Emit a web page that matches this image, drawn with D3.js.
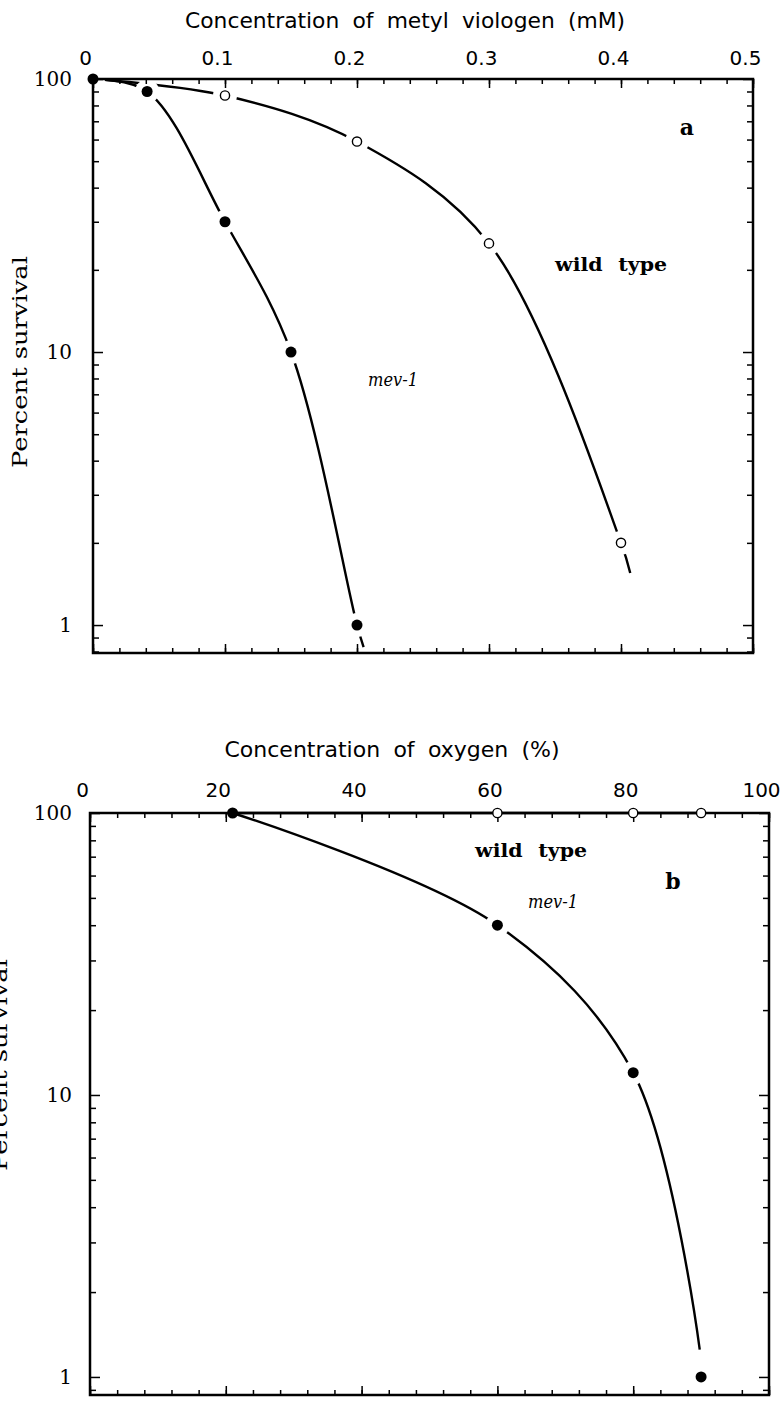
<!DOCTYPE html>
<html lang="en">
<head>
<meta charset="UTF-8">
<style>
  body { margin: 0; background: #fff; }
  .sans { font-family: "DejaVu Sans", sans-serif; }
  .serif { font-family: "DejaVu Serif", serif; }
</style>
</head>
<body>
<svg width="782" height="1405"></svg>
<script src="https://d3js.org/d3.v7.min.js"></script>
<script>
// ---- data ----
// panel a: methyl viologen (mM)
var mevDoseA = [0, 0.041, 0.1, 0.15, 0.2];
var mevSurvA = [100, 90, 30, 10, 1];
var wildDoseA = [0.1, 0.2, 0.3, 0.4];
var wildSurvA = [87, 59, 25, 2];
// fitted curves as drawn (the line runs a little past the last point)
var mevFitA = [[0, 100], [0.041, 90], [0.1, 30], [0.15, 10], [0.2, 1], [0.205, 0.83]];
var wildFitA = [[0, 100], [0.1, 87], [0.2, 59], [0.3, 25], [0.4, 2], [0.407, 1.55]];

// panel b: oxygen (%)
var mevDoseB = [21, 60, 80, 90];
var mevSurvB = [100, 40, 12, 1];
var wildDoseB = [60, 80, 90];
var wildSurvB = [100, 100, 100];
var mevFitB = [[21, 100], [60, 40], [80, 12], [89.8, 1.25]];
var wildFitB = [[21, 100], [90, 100]];

var xTicksA = [0, 0.1, 0.2, 0.3, 0.4, 0.5];
var xTicksB = [0, 20, 40, 60, 80, 100];
var yTicks = [1, 10, 100];

var svg = d3.select("svg");

function zip(xs, ys) { return xs.map(function(v, i) { return [v, ys[i]]; }); }

function minorLog(lo, hi) {
  var out = [];
  [0.1, 1, 10].forEach(function(dec) {
    for (var k = 2; k <= 9; k++) {
      var v = k * dec;
      if (v >= lo && v < hi && v !== 1 && v !== 10) out.push(v);
    }
  });
  return out;
}

function panel(p) {
  var g = svg.append("g");
  var x = d3.scaleLinear().domain(p.xDomain).range([p.left, p.right]);
  var y = d3.scaleLog().domain(p.yDomain).range([p.bottom, p.top]);

  var line = d3.line()
    .x(function(d) { return x(d[0]); })
    .y(function(d) { return y(d[1]); })
    .curve(d3.curveCatmullRom.alpha(0.5));

  // curves
  p.fits.forEach(function(f) {
    g.append("path").datum(f)
      .attr("d", line)
      .attr("fill", "none")
      .attr("stroke", "#000")
      .attr("stroke-width", 2.4);
  });

  // white gaps round the points
  var allPts = p.filled.concat(p.open).filter(p.halo);
  g.selectAll(".halo").data(allPts).enter().append("circle")
    .attr("cx", function(d) { return x(d[0]); })
    .attr("cy", function(d) { return y(d[1]); })
    .attr("r", 12)
    .attr("fill", "#fff");

  // frame
  g.append("rect")
    .attr("x", p.left).attr("y", p.top)
    .attr("width", p.right - p.left).attr("height", p.bottom - p.top)
    .attr("fill", "none").attr("stroke", "#000").attr("stroke-width", 2.5);

  var minorX = d3.range(p.xDomain[0], p.xDomain[1] + p.xMinor / 2, p.xMinor);
  var minorY = minorLog(p.yDomain[0], p.yDomain[1]);

  function addAxis(axis, tr) {
    var a = g.append("g").attr("transform", tr).call(axis);
    a.select(".domain").remove();
    a.selectAll("line").attr("stroke-width", 1.5);
    return a;
  }

  // bottom
  addAxis(d3.axisBottom(x).tickValues(minorX).tickSize(-5).tickFormat(""), "translate(0," + p.bottom + ")");
  addAxis(d3.axisBottom(x).tickValues(p.xTicks).tickSize(-9).tickFormat(""), "translate(0," + p.bottom + ")");
  // top with labels
  addAxis(d3.axisTop(x).tickValues(minorX).tickSize(-5).tickFormat(""), "translate(0," + p.top + ")");
  var top = addAxis(d3.axisTop(x).tickValues(p.xTicks).tickSize(-9).tickPadding(p.xPad)
      .tickFormat(function(d) { return d3.format("~g")(d); }), "translate(0," + p.top + ")");
  top.selectAll("text").attr("class", "sans").attr("font-size", 20).attr("dx", -8)
    .attr("fill", "#000");

  // left with labels
  addAxis(d3.axisLeft(y).tickValues(minorY).tickSize(-6).tickFormat(""), "translate(" + p.left + ",0)");
  var left = addAxis(d3.axisLeft(y).tickValues(yTicks).tickSize(-10).tickPadding(p.left - 72)
      .tickFormat(d3.format("d")), "translate(" + p.left + ",0)");
  left.selectAll("text").attr("class", "serif").attr("font-size", 20).attr("fill", "#000");
  // right
  addAxis(d3.axisRight(y).tickValues(minorY).tickSize(-6).tickFormat(""), "translate(" + p.right + ",0)");
  addAxis(d3.axisRight(y).tickValues(yTicks).tickSize(-10).tickFormat(""), "translate(" + p.right + ",0)");

  // markers
  g.selectAll(".filled").data(p.filled).enter().append("circle")
    .attr("cx", function(d) { return x(d[0]); })
    .attr("cy", function(d) { return y(d[1]); })
    .attr("r", 5.5).attr("fill", "#000");
  g.selectAll(".open").data(p.open).enter().append("circle")
    .attr("cx", function(d) { return x(d[0]); })
    .attr("cy", function(d) { return y(d[1]); })
    .attr("r", 4.6).attr("fill", "#fff").attr("stroke", "#000").attr("stroke-width", 1.4);

  // titles and labels
  g.append("text").attr("class", "sans")
    .attr("x", p.titleX).attr("y", p.titleY)
    .attr("font-size", 21).attr("text-anchor", "middle")
    .style("word-spacing", "6px")
    .attr("textLength", p.titleLen).attr("lengthAdjust", "spacingAndGlyphs")
    .text(p.title);

  g.append("text").attr("class", "serif")
    .attr("transform", "translate(" + p.ylabX + "," + p.ylabY + ") rotate(-90)")
    .attr("font-size", 20).attr("text-anchor", "middle")
    .attr("textLength", 212).attr("lengthAdjust", "spacingAndGlyphs")
    .text("Percent survival");

  g.append("text").attr("class", "serif")
    .attr("x", p.wildX).attr("y", p.wildY)
    .attr("font-size", 19).attr("font-weight", "bold")
    .style("word-spacing", "8px")
    .attr("textLength", 112).attr("lengthAdjust", "spacingAndGlyphs")
    .text("wild type");

  g.append("text").attr("class", "serif")
    .attr("x", p.mevX).attr("y", p.mevY)
    .attr("font-size", 19).attr("font-style", "italic").attr("text-anchor", "middle")
    .attr("textLength", 50).attr("lengthAdjust", "spacingAndGlyphs")
    .text("mev-1");

  g.append("text").attr("class", "serif")
    .attr("x", p.letterX).attr("y", p.letterY)
    .attr("font-size", 22).attr("font-weight", "bold").attr("text-anchor", "middle")
    .text(p.letter);
}

panel({
  xDomain: [0, 0.5], yDomain: [0.79, 100],
  left: 93, right: 753, top: 79, bottom: 653,
  xTicks: xTicksA, xMinor: 0.02, xPad: 14,
  fits: [mevFitA, wildFitA],
  filled: zip(mevDoseA, mevSurvA), open: zip(wildDoseA, wildSurvA),
  halo: function(d) { return true; },
  title: "Concentration of metyl viologen (mM)", titleX: 405, titleY: 28, titleLen: 440,
  ylabX: 27, ylabY: 362,
  wildX: 555, wildY: 271, mevX: 393, mevY: 386,
  letter: "a", letterX: 687, letterY: 135
});

panel({
  xDomain: [0, 100], yDomain: [0.863, 100],
  left: 90, right: 769, top: 813, bottom: 1395,
  xTicks: xTicksB, xMinor: 4, xPad: 16,
  fits: [mevFitB, wildFitB],
  filled: zip(mevDoseB, mevSurvB), open: zip(wildDoseB, wildSurvB),
  halo: function(d) { return d[1] < 100; },
  title: "Concentration of oxygen (%)", titleX: 392, titleY: 757, titleLen: 335,
  ylabX: 7, ylabY: 1065,
  wildX: 475, wildY: 857, mevX: 553, mevY: 908,
  letter: "b", letterX: 673, letterY: 889
});
</script>
</body>
</html>
